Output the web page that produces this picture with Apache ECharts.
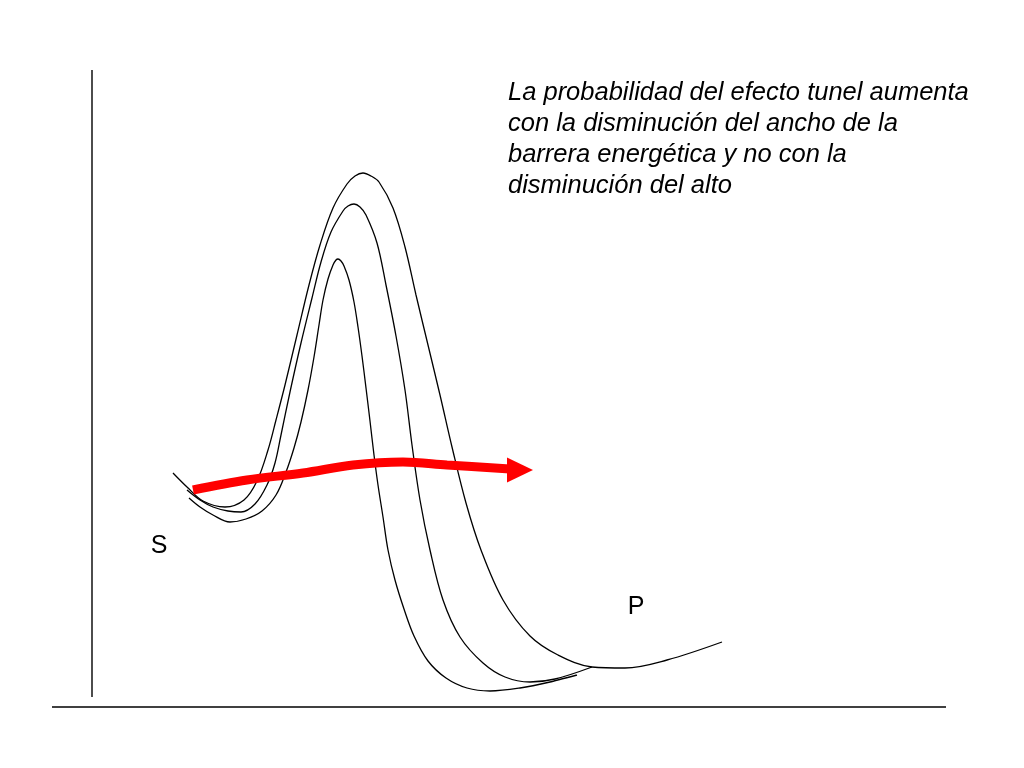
<!DOCTYPE html>
<html>
<head>
<meta charset="utf-8">
<script src="https://cdn.jsdelivr.net/npm/echarts@6/dist/echarts.min.js"></script>
<style>html,body{margin:0;padding:0;background:#fff}#c{width:1024px;height:768px}</style>
</head>
<body>
<div id="c"></div>
<script>
// Coordinates (x to the right, y downward)
const outerCurve = [[173,473],[187,487],[203,501],[225,507],[244,500],[257,481],[268,450],[276,420],[285,385],[297,335],[309,285],[320,245],[333,208],[347,184],[355,176],[363,173],[371,176],[379,182],[393,208],[405,247],[416,295],[428,345],[440,395],[452,447],[466,503],[481,550],[503,600],[530,636],[558,655],[592,667],[625,668],[667,660],[722,642]];
const middleCurve = [[187,490],[200,500],[213,507],[228,511],[241,512],[255,504],[267,485],[275,463],[281,435],[290,392],[301,343],[312,298],[321,262],[331,232],[343,211],[348,206],[354,204],[360,207],[366,215],[377,243],[386,285],[396,336],[405,390],[412,445],[420,500],[430,550],[443,600],[460,637],[483,663],[505,677],[530,682],[555,679],[592,667]];
const innerCurve = [[189,498],[200,507],[213,515],[230,522],[246,519],[262,511],[276,495],[286,472],[294,448],[301,422],[308,390],[314,357],[319,325],[323,300],[328,279],[333,265],[336,260],[338,259],[341,261],[344,266],[349,280],[354,302],[358,327],[362,356],[366,388],[370,421],[374,455],[378,485],[383,517],[388,550],[395,580],[404,609],[414,636],[428,661],[446,678],[467,688],[490,691],[520,688],[550,682],[577,675]];
const arrowPath = [[193,490],[247,480],[303,473],[353,465],[403,462],[447,465],[510,469]];
const arrowHead = [[520,470]];
const verticalAxis = [[92,70],[92,697]];
const horizontalAxis = [[52,707],[946,707]];
const noteLines = ['La probabilidad del efecto tunel aumenta','con la disminución del ancho de la','barrera energética y no con la','disminución del alto'];
const pointLabels = [{text:'S', pos:[159,546]},{text:'P', pos:[636,607]}];

const chart = echarts.init(document.getElementById('c'));
const blackLine = (data) => ({type:'line', data, smooth:0.35, symbol:'none', lineStyle:{color:'#000', width:1.3}, silent:true, z:2});
chart.setOption({
  animation:false,
  grid:{left:0,right:0,top:0,bottom:0},
  xAxis:{type:'value', min:0, max:1024, show:false},
  yAxis:{type:'value', min:0, max:768, inverse:true, show:false},
  series:[
    {type:'line', data:verticalAxis, symbol:'none', lineStyle:{color:'#000', width:1.4}},
    {type:'line', data:horizontalAxis, symbol:'none', lineStyle:{color:'#000', width:1.4}},
    blackLine(outerCurve),
    blackLine(middleCurve),
    blackLine(innerCurve),
    {type:'line', data:arrowPath, smooth:0.35, symbol:'none', lineStyle:{color:'#ff0000', width:9, cap:'butt'}, z:5},
    {type:'scatter', data:arrowHead, symbol:'triangle', symbolSize:[25,26], symbolRotate:-90, itemStyle:{color:'#ff0000', opacity:1}, z:6},
    {type:'scatter', data:pointLabels.map(p=>({value:p.pos, name:p.text})), symbolSize:1, itemStyle:{color:'transparent', opacity:1},
     label:{show:true, position:'inside', formatter:'{b}', fontFamily:'Liberation Sans', fontSize:25, color:'#000', opacity:1}}
  ],
  graphic:[{
    type:'text', left:508, top:77,
    style:{text:noteLines.join('\n'), font:'italic 25.5px "Liberation Sans"', lineHeight:31, fill:'#000'}
  }]
});
</script>
</body>
</html>
